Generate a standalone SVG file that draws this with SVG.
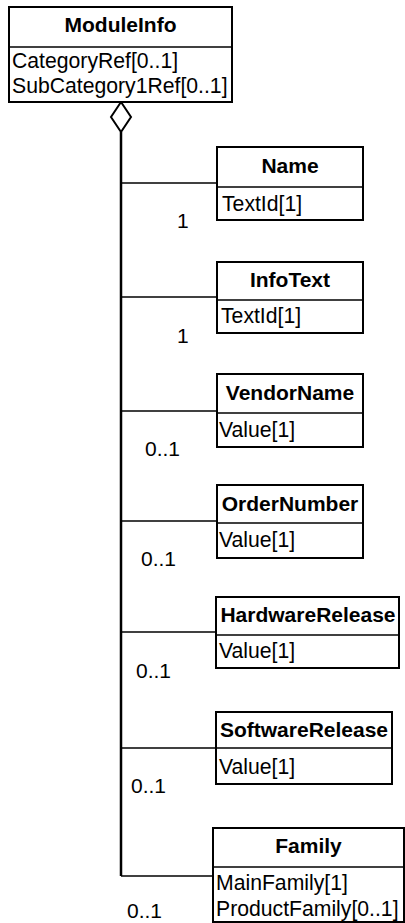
<svg xmlns="http://www.w3.org/2000/svg" width="405" height="923" viewBox="0 0 405 923">
<style>
.box{fill:#fff;stroke:#000;stroke-width:2}
.sep{stroke:#000;stroke-width:1.5}
.t{font-family:"Liberation Sans",Arial,sans-serif;font-weight:bold;font-size:21px;text-anchor:middle}
.a{font-family:"Liberation Sans",Arial,sans-serif;font-size:21.2px}
.m{font-family:"Liberation Sans",Arial,sans-serif;font-size:21px}
.c{stroke:#000;stroke-width:1.5;fill:none}
</style>
<rect width="405" height="923" fill="#fff"/>
<g id="connectors">
<polygon points="121,102 131,117 121,132 111,117" fill="#fff" stroke="#000" stroke-width="2"/>
<line x1="121" y1="132" x2="121" y2="876" stroke="#000" stroke-width="2.5"/>
<line class="c" x1="121" y1="183" x2="217" y2="183"/>
<line class="c" x1="121" y1="297" x2="217" y2="297"/>
<line class="c" x1="121" y1="411" x2="217" y2="411"/>
<line class="c" x1="121" y1="521" x2="217" y2="521"/>
<line class="c" x1="121" y1="632" x2="216" y2="632"/>
<line class="c" x1="121" y1="748" x2="216" y2="748"/>
<line class="c" x1="121" y1="876" x2="213" y2="876"/>
<text class="m" x="177" y="228">1</text>
<text class="m" x="177" y="343">1</text>
<text class="m" x="145" y="456">0..1</text>
<text class="m" x="141" y="566">0..1</text>
<text class="m" x="136" y="678">0..1</text>
<text class="m" x="131" y="793">0..1</text>
<text class="m" x="127" y="918">0..1</text>
</g>
<g id="ModuleInfo">
<rect class="box" x="9" y="7" width="223" height="95"/>
<line class="sep" x1="9" y1="47" x2="232" y2="47"/>
<text class="t" x="120.5" y="32">ModuleInfo</text>
<text class="a" x="12" y="68">CategoryRef[0..1]</text>
<text class="a" x="12" y="93">SubCategory1Ref[0..1]</text>
</g>
<g id="Name">
<rect class="box" x="217" y="147" width="146" height="73"/>
<line class="sep" x1="217" y1="187" x2="363" y2="187"/>
<text class="t" x="290" y="173">Name</text>
<text class="a" x="222" y="211">TextId[1]</text>
</g>
<g id="InfoText">
<rect class="box" x="217" y="262" width="146" height="71"/>
<line class="sep" x1="217" y1="300" x2="363" y2="300"/>
<text class="t" x="290" y="287">InfoText</text>
<text class="a" x="221" y="323">TextId[1]</text>
</g>
<g id="VendorName">
<rect class="box" x="217" y="374" width="146" height="73"/>
<line class="sep" x1="217" y1="413" x2="363" y2="413"/>
<text class="t" x="290" y="400">VendorName</text>
<text class="a" x="219" y="437">Value[1]</text>
</g>
<g id="OrderNumber">
<rect class="box" x="217" y="485" width="146" height="73"/>
<line class="sep" x1="217" y1="523" x2="363" y2="523"/>
<text class="t" x="290" y="511">OrderNumber</text>
<text class="a" x="219" y="547">Value[1]</text>
</g>
<g id="HardwareRelease">
<rect class="box" x="216" y="597" width="183" height="71"/>
<line class="sep" x1="216" y1="635" x2="399" y2="635"/>
<text class="t" x="308" y="622">HardwareRelease</text>
<text class="a" x="219" y="658">Value[1]</text>
</g>
<g id="SoftwareRelease">
<rect class="box" x="216" y="712" width="176" height="72"/>
<line class="sep" x1="216" y1="748" x2="392" y2="748"/>
<text class="t" x="304" y="737">SoftwareRelease</text>
<text class="a" x="219" y="774">Value[1]</text>
</g>
<g id="Family">
<rect class="box" x="213" y="828" width="191" height="94"/>
<line class="sep" x1="213" y1="867" x2="404" y2="867"/>
<text class="t" x="308.5" y="853">Family</text>
<text class="a" x="216" y="890">MainFamily[1]</text>
<text class="a" x="216" y="916">ProductFamily[0..1]</text>
</g>
</svg>
